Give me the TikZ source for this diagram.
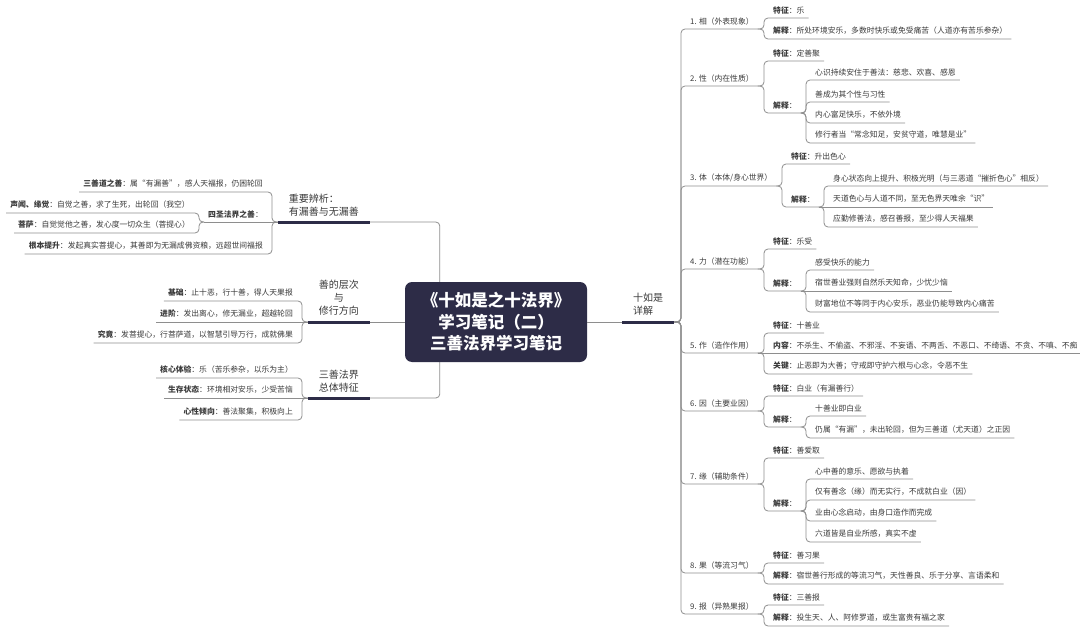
\documentclass[tikz,border=0pt]{standalone}
\usepackage{fontspec}
\setmainfont{Noto Sans CJK SC}
\usepackage{tikz}
\usetikzlibrary{backgrounds}

\definecolor{navy}{HTML}{2D2C47}
\definecolor{linegray}{HTML}{8E8E8E}
\definecolor{textgray}{HTML}{3A3A3A}

\newcommand{\kvlabel}[2]{\textbf{#1}：#2}

\begin{document}
\begin{tikzpicture}[
    x=1pt, y=-1pt,
    conn/.style={draw=linegray, line width=0.8pt, rounded corners=4pt},
    bar/.style={draw=navy, line width=3pt},
    root/.style={
        fill=navy,
        rounded corners=7pt,
        minimum width=182pt,
        minimum height=80pt,
        text=white,
        align=center,
        font=\fontsize{16.5}{21.5}\selectfont\bfseries
    },
    topic/.style={font=\fontsize{10}{13}\selectfont, text=textgray, inner xsep=11pt, inner ysep=6pt},
    item/.style={font=\fontsize{7.8}{9}\selectfont, text=textgray, inner xsep=4pt, inner ysep=4pt},
    itemR/.style={item, anchor=south west},
    itemL/.style={item, anchor=south east}
]
\useasboundingbox (0,0) rectangle (1080,634);

% centre and main topics
\node[root] (root) at (496,322) {《十如是之十法界》\\学习笔记（二）\\三善法界学习笔记};
\node[topic, anchor=south west, align=left] (xrs) at (622,322) {十如是\\详解};
\node[topic, anchor=south east, align=left] (bx) at (370,222) {重要辨析：\\有漏善与无漏善};
\node[topic, anchor=south east, align=center] (cc) at (370,322) {善的层次\\与\\修行方向};
\node[topic, anchor=south east, align=center] (zt) at (370,398) {三善法界\\总体特征};

% ten suchnesses
\node[itemR] (r1) at (686,29) {1. 相（外表现象）};
\node[itemR] (r2) at (686,86) {2. 性（内在性质）};
\node[itemR] (r3) at (686,186) {3. 体（本体/身心世界）};
\node[itemR] (r4) at (686,269) {4. 力（潜在功能）};
\node[itemR] (r5) at (686,353) {5. 作（造作作用）};
\node[itemR] (r6) at (686,411) {6. 因（主要业因）};
\node[itemR] (r7) at (686,484) {7. 缘（辅助条件）};
\node[itemR] (r8) at (686,573) {8. 果（等流习气）};
\node[itemR] (r9) at (686,614) {9. 报（异熟果报）};

\node[itemR] (r1a) at (769,18) {\kvlabel{特征}{乐}};
\node[itemR] (r1b) at (769,39) {\kvlabel{解释}{所处环境安乐，多数时快乐或免受痛苦（人道亦有苦乐参杂）}};

\node[itemR] (r2a) at (769,61) {\kvlabel{特征}{定善聚}};
\node[itemR] (r2b) at (769,113) {\textbf{解释}：};
\node[itemR] (r2b1) at (811,80) {心识持续安住于善法：慈悲、欢喜、感恩};
\node[itemR] (r2b2) at (811,102) {善成为其个性与习性};
\node[itemR] (r2b3) at (811,123) {内心富足快乐，不依外境};
\node[itemR] (r2b4) at (811,143) {修行者当“常念知足，安贫守道，唯慧是业”};

\node[itemR] (r3a) at (787,164) {\kvlabel{特征}{升出色心}};
\node[itemR] (r3b) at (787,207) {\textbf{解释}：};
\node[itemR] (r3b1) at (829,186) {身心状态向上提升、积极光明（与三恶道“摧折色心”相反）};
\node[itemR] (r3b2) at (829,207) {天道色心与人道不同，至无色界天唯余“识”};
\node[itemR] (r3b3) at (829,227) {应勤修善法，感召善报，至少得人天福果};

\node[itemR] (r4a) at (769,249) {\kvlabel{特征}{乐受}};
\node[itemR] (r4b) at (769,291) {\textbf{解释}：};
\node[itemR] (r4b1) at (811,270) {感受快乐的能力};
\node[itemR] (r4b2) at (811,291) {宿世善业强则自然乐天知命，少忧少恼};
\node[itemR] (r4b3) at (811,312) {财富地位不等同于内心安乐，恶业仍能导致内心痛苦};

\node[itemR] (r5a) at (769,333) {\kvlabel{特征}{十善业}};
\node[itemR] (r5b) at (769,353) {\kvlabel{内容}{不杀生、不偷盗、不邪淫、不妄语、不两舌、不恶口、不绮语、不贪、不嗔、不痴}};
\node[itemR] (r5c) at (769,374) {\kvlabel{关键}{止恶即为大善；守戒即守护六根与心念，令恶不生}};

\node[itemR] (r6a) at (769,396) {\kvlabel{特征}{白业（有漏善行）}};
\node[itemR] (r6b) at (769,427) {\textbf{解释}：};
\node[itemR] (r6b1) at (811,416) {十善业即白业};
\node[itemR] (r6b2) at (811,438) {仍属“有漏”，未出轮回，但为三善道（尤天道）之正因};

\node[itemR] (r7a) at (769,458) {\kvlabel{特征}{善爱取}};
\node[itemR] (r7b) at (769,511) {\textbf{解释}：};
\node[itemR] (r7b1) at (811,479) {心中善的意乐、愿欲与执着};
\node[itemR] (r7b2) at (811,500) {仅有善念（缘）而无实行，不成就白业（因）};
\node[itemR] (r7b3) at (811,521) {业由心念启动，由身口造作而完成};
\node[itemR] (r7b4) at (811,542) {六道皆是自业所感，真实不虚};

\node[itemR] (r8a) at (769,563) {\kvlabel{特征}{善习果}};
\node[itemR] (r8b) at (769,584) {\kvlabel{解释}{宿世善行形成的等流习气，天性善良、乐于分享、言语柔和}};

\node[itemR] (r9a) at (769,605) {\kvlabel{特征}{三善报}};
\node[itemR] (r9b) at (769,626) {\kvlabel{解释}{投生天、人、阿修罗道，或生富贵有福之家}};

% left side
\node[itemL] (l1) at (267,192) {\kvlabel{三善道之善}{属“有漏善”，感人天福报，仍困轮回}};
\node[itemL] (l2) at (267,222) {\textbf{四圣法界之善}：};
\node[itemL] (l2a) at (194,213) {\kvlabel{声闻、缘觉}{自觉之善，求了生死，出轮回（我空）}};
\node[itemL] (l2b) at (194,233) {\kvlabel{菩萨}{自觉觉他之善，发心度一切众生（菩提心）}};
\node[itemL] (l3) at (267,254) {\kvlabel{根本提升}{发起真实菩提心，其善即为无漏成佛资粮，远超世间福报}};

\node[itemL] (c1) at (297,301) {\kvlabel{基础}{止十恶，行十善，得人天果报}};
\node[itemL] (c2) at (297,322) {\kvlabel{进阶}{发出离心，修无漏业，超越轮回}};
\node[itemL] (c3) at (297,343) {\kvlabel{究竟}{发菩提心，行菩萨道，以智慧引导万行，成就佛果}};

\node[itemL] (z1) at (297,378) {\kvlabel{核心体验}{乐（苦乐参杂，以乐为主）}};
\node[itemL] (z2) at (297,398) {\kvlabel{生存状态}{环境相对安乐，少受苦恼}};
\node[itemL] (z3) at (297,420) {\kvlabel{心性倾向}{善法聚集，积极向上}};

% connectors
\begin{scope}[on background layer]
  \fill[white] (0,0) rectangle (1080,634);
  \foreach \t in {bx,zt}
    \draw[conn] ([xshift=35pt]root.west) |- (\t.south east);
  \draw[conn] (root.west) -- (cc.south east);
\end{scope}
\draw[conn] (root.east) -- (xrs.south west);
\foreach \i in {1,...,9}
  \draw[conn] (xrs.south east) -| ([xshift=-5pt]r\i.south west) -- (r\i.south east);
\foreach \p/\c in {r1/r1a, r1/r1b, r2/r2a, r2/r2b, r2b/r2b1, r2b/r2b2, r2b/r2b3, r2b/r2b4,
    r3/r3a, r3/r3b, r3b/r3b1, r3b/r3b3, r4/r4a, r4/r4b, r4b/r4b1, r4b/r4b3,
    r5/r5a, r5/r5c, r6/r6a, r6/r6b, r6b/r6b1, r6b/r6b2,
    r7/r7a, r7/r7b, r7b/r7b1, r7b/r7b2, r7b/r7b3, r7b/r7b4,
    r8/r8a, r8/r8b, r9/r9a, r9/r9b}
  \draw[conn] (\p.south east) -| ([xshift=-5pt]\c.south west) -- (\c.south east);
\foreach \p/\c in {r3b/r3b2, r4b/r4b2, r5/r5b}
  \draw[conn] (\p.south east) -- (\c.south east);
\foreach \p/\c in {bx/l1, bx/l3, l2/l2a, l2/l2b, cc/c1, cc/c3, zt/z1, zt/z3}
  \draw[conn] (\p.south west) -| ([xshift=5pt]\c.south east) -- (\c.south west);
\foreach \p/\c in {bx/l2, cc/c2, zt/z2}
  \draw[conn] (\p.south west) -- (\c.south west);
\foreach \t in {xrs,bx,cc,zt}
  \draw[bar] (\t.south west) -- (\t.south east);
\end{tikzpicture}
\end{document}
